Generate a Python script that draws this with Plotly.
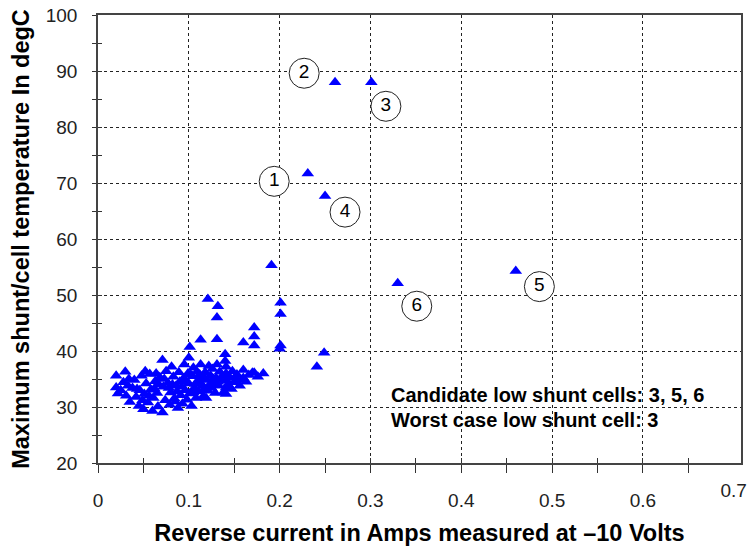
import plotly.graph_objects as go

# Reverse current (A) and max shunt/cell temperature (degC) for each cell
current_a = [
    0.261, 0.301, 0.231, 0.250, 0.191, 0.330, 0.460,
    0.201, 0.201, 0.201, 0.200, 0.121, 0.132, 0.131, 0.172, 0.172, 0.172,
    0.160, 0.113, 0.131, 0.101, 0.241, 0.249, 0.182, 0.172,
    0.020, 0.020, 0.022, 0.028, 0.030, 0.031, 0.034, 0.035, 0.038, 0.040,
    0.042, 0.045, 0.046, 0.048, 0.050, 0.051, 0.053, 0.055, 0.057, 0.058,
    0.060, 0.061, 0.063, 0.065, 0.066, 0.068, 0.071, 0.071, 0.072, 0.074,
    0.075, 0.077, 0.079, 0.080, 0.081, 0.083, 0.084, 0.086, 0.088, 0.089,
    0.090, 0.091, 0.093, 0.094, 0.095, 0.096, 0.098, 0.099, 0.100, 0.100,
    0.101, 0.103, 0.104, 0.105, 0.106, 0.108, 0.109, 0.110, 0.111, 0.112,
    0.113, 0.115, 0.116, 0.118, 0.119, 0.120, 0.121, 0.122, 0.124, 0.125,
    0.126, 0.128, 0.129, 0.130, 0.131, 0.133, 0.134, 0.136, 0.138, 0.140,
    0.140, 0.141, 0.141, 0.141, 0.141, 0.141, 0.145, 0.148, 0.150, 0.153,
    0.156, 0.160, 0.160, 0.163, 0.166, 0.170, 0.176,
    0.025, 0.033, 0.043, 0.049, 0.056, 0.062, 0.067, 0.073, 0.078, 0.082,
    0.087, 0.092, 0.097, 0.102, 0.107, 0.114, 0.117, 0.123, 0.127, 0.132,
    0.137, 0.143, 0.147, 0.152, 0.158, 0.085, 0.064, 0.052, 0.118, 0.105,
]
max_temp_c = [
    88.0, 88.0, 71.7, 67.7, 55.3, 52.1, 54.3,
    48.6, 46.6, 41.0, 40.4, 49.3, 48.0, 46.0, 44.2, 42.6, 41.0,
    41.5, 42.0, 42.1, 40.7, 37.2, 39.7, 36.0, 36.1,
    35.6, 33.5, 32.4, 34.4, 36.3, 32.0, 35.0, 30.9, 33.4, 34.8,
    31.8, 30.2, 33.0, 35.6, 29.6, 32.3, 34.2, 30.8, 35.9, 33.1,
    29.3, 31.6, 34.6, 32.5, 30.1, 35.3, 38.4, 29.0, 33.6, 31.2,
    36.4, 34.3, 30.4, 32.6, 37.2, 35.4, 31.5, 33.8, 29.8, 36.2,
    34.5, 32.1, 30.6, 35.1, 37.6, 33.0, 31.3, 36.0, 38.8, 34.2,
    32.4, 30.2, 35.5, 37.0, 33.4, 31.6, 36.3, 34.6, 32.8, 35.8,
    37.6, 33.9, 31.9, 36.2, 31.6, 34.8, 32.9, 37.3, 35.6, 33.4,
    36.8, 34.2, 32.5, 35.2, 37.6, 33.8, 36.3, 34.7, 32.6, 39.4,
    38.2, 37.2, 36.0, 34.8, 33.5, 32.3, 35.3, 36.4, 34.4, 35.8,
    33.8, 36.6, 35.2, 34.5, 35.7, 36.1, 35.4,
    33.0, 33.8, 33.2, 31.2, 32.0, 33.3, 34.0, 35.0, 33.4, 34.0,
    32.8, 33.6, 34.6, 35.8, 34.1, 35.0, 33.2, 34.0, 35.0, 34.5,
    35.6, 34.0, 33.2, 35.2, 34.8, 31.0, 36.0, 36.4, 35.0, 32.6,
]

# Numbered callouts
callout_num = ["1", "2", "3", "4", "5", "6"]
callout_x = [0.194, 0.227, 0.317, 0.272, 0.486, 0.351]
callout_y = [70.3, 89.6, 83.7, 64.8, 51.5, 48.0]

x_tickvals = [0, 0.1, 0.2, 0.3, 0.4, 0.5, 0.6]
x_ticktext = ["0", "0.1", "0.2", "0.3", "0.4", "0.5", "0.6"]
x_minor_ticks = [0.05, 0.15, 0.25, 0.35, 0.45, 0.55, 0.65]
x_end_tickval = [0.7]
x_end_ticktext = ["0.7"]
y_tickvals = [20, 30, 40, 50, 60, 70, 80, 90, 100]

note_lines = ["Candidate low shunt cells: 3, 5, 6", "Worst case low shunt cell: 3"]
note_y = [32.2, 27.6]

FONT = "Liberation Sans, Arial, sans-serif"
X_MAX = 0.708

fig = go.Figure()
fig.add_trace(go.Scatter(
    x=current_a, y=max_temp_c, mode="markers",
    marker=dict(symbol="triangle-up", size=11, color="#0000FF", line=dict(width=0)),
    showlegend=False, hoverinfo="x+y",
))
fig.add_trace(go.Scatter(
    x=callout_x, y=callout_y, mode="markers+text", text=callout_num,
    textposition="middle center",
    textfont=dict(family=FONT, size=19, color="black"),
    marker=dict(symbol="circle", size=30, color="white", line=dict(color="#222", width=1)),
    showlegend=False, hoverinfo="skip",
))
# invisible traces to hold the overlay axes (inside tick marks, end label)
fig.add_trace(go.Scatter(x=[0], y=[20], xaxis="x2", yaxis="y2", mode="markers",
                         marker=dict(opacity=0), showlegend=False, hoverinfo="skip"))
fig.add_trace(go.Scatter(x=[0], y=[20], xaxis="x3", yaxis="y2", mode="markers",
                         marker=dict(opacity=0), showlegend=False, hoverinfo="skip"))

for line, yv in zip(note_lines, note_y):
    fig.add_annotation(x=0.3205, y=yv, xref="x", yref="y", text=line,
                       showarrow=False, xanchor="left", yanchor="middle",
                       font=dict(family=FONT, size=20, color="black", weight="bold"))

axis_common = dict(showline=True, linecolor="#444", linewidth=1.5, mirror=True,
                   gridcolor="#222", griddash="3px,3px", gridwidth=1, zeroline=False,
                   automargin=False, ticklabeloverflow="allow")

fig.update_layout(
    width=750, height=550,
    margin=dict(l=98, r=9, t=15, b=87),
    plot_bgcolor="white", paper_bgcolor="white",
    xaxis=dict(range=[0, X_MAX], tickvals=x_tickvals, ticktext=x_ticktext,
               ticks="outside", ticklen=8, tickcolor="#333", ticklabelstandoff=11,
               minor=dict(tickvals=x_minor_ticks, ticks="outside", ticklen=8, tickcolor="#333", showgrid=False),
               tickfont=dict(family=FONT, size=19, color="#222"),
               title=dict(text="<b>Reverse current in Amps measured at \u201310 Volts</b>",
                          font=dict(family=FONT, size=23.5, color="black"), standoff=15),
               **axis_common),
    yaxis=dict(range=[20, 100], tickvals=y_tickvals,
               ticks="outside", ticklen=4, tickcolor="#333", ticklabelstandoff=11,
               minor=dict(dtick=5, tick0=0, ticks="outside", ticklen=4, tickcolor="#333", showgrid=False),
               tickfont=dict(family=FONT, size=19, color="#222"),
               title=dict(text="<b>Maximum shunt/cell temperature In degC</b>",
                          font=dict(family=FONT, size=23.5, color="black"), standoff=10),
               **axis_common),
    xaxis2=dict(range=[0, X_MAX], overlaying="x", side="bottom", showgrid=False, zeroline=False,
                automargin=False, showticklabels=False, ticks="inside", ticklen=5, tickcolor="#333",
                tickvals=x_tickvals,
                minor=dict(tickvals=x_minor_ticks, ticks="inside", ticklen=5, tickcolor="#333")),
    xaxis3=dict(range=[0, X_MAX], overlaying="x", side="bottom", showgrid=False, zeroline=False,
                automargin=False, showline=False, ticks="", tickvals=x_end_tickval,
                ticktext=x_end_ticktext, ticklabelstandoff=14, ticklabeloverflow="allow",
                tickfont=dict(family=FONT, size=19, color="#222")),
    yaxis2=dict(range=[20, 100], overlaying="y", side="left", showgrid=False, zeroline=False,
                automargin=False, showticklabels=False, ticks="inside", ticklen=4, tickcolor="#333",
                tickvals=y_tickvals, minor=dict(dtick=5, tick0=0, ticks="inside", ticklen=4, tickcolor="#333")),
)

# remove the default page margin so the 750x550 figure fills the window exactly
fig.write_html("out.html", config={"displayModeBar": False},
               post_script="document.body.style.margin='0';document.body.style.overflow='hidden';")
